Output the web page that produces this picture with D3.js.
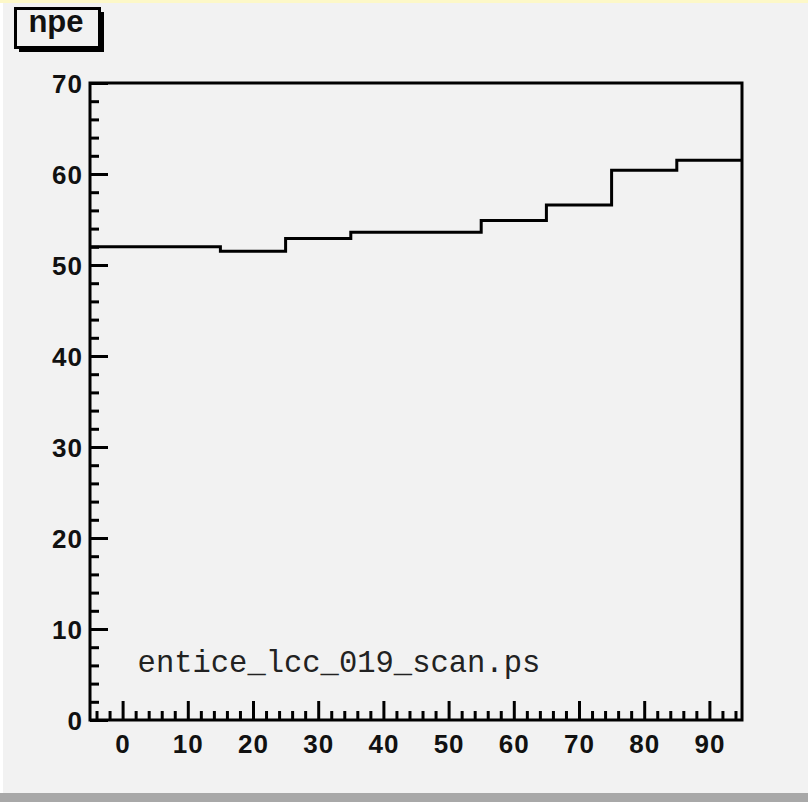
<!DOCTYPE html>
<html>
<head>
<meta charset="utf-8">
<script src="https://cdn.jsdelivr.net/npm/d3@7"></script>
<style>
  html, body { margin: 0; padding: 0; background: #f2f2f2; }
  svg { display: block; }
</style>
</head>
<body>
<div id="chart"></div>
<script>
'use strict';

// histogram: bin centres and contents (npe)
const binCenters = [0, 10, 20, 30, 40, 50, 60, 70, 80, 90];
const binValues = [52.0, 52.0, 51.5, 52.9, 53.6, 53.6, 54.9, 56.6, 60.4, 61.5];
const binWidth = 10;
const xTickLabels = [0, 10, 20, 30, 40, 50, 60, 70, 80, 90];
const yTickLabels = [0, 10, 20, 30, 40, 50, 60, 70];
const titleText = "npe";
const noteText = "entice_lcc_019_scan.ps";

const W = 808, H = 802;
const margin = {top: 83, right: 66, bottom: 82, left: 90};
const width = W - margin.left - margin.right;
const height = H - margin.top - margin.bottom;

const svg = d3.select("#chart").append("svg")
    .attr("width", W)
    .attr("height", H);

// window chrome
svg.append("rect").attr("x", 0).attr("y", 0).attr("width", W).attr("height", H).attr("fill", "#f2f2f2");
svg.append("rect").attr("x", 0).attr("y", 0).attr("width", W).attr("height", 3).attr("fill", "#fdf8c8");
svg.append("rect").attr("x", 0).attr("y", 3).attr("width", 3).attr("height", H).attr("fill", "#ffffff");
svg.append("rect").attr("x", 0).attr("y", 793).attr("width", W).attr("height", 9).attr("fill", "#a8a8a8");

const g = svg.append("g")
    .attr("transform", "translate(" + margin.left + "," + margin.top + ")");

const x = d3.scaleLinear()
    .domain([binCenters[0] - binWidth / 2, binCenters[binCenters.length - 1] + binWidth / 2])
    .range([0, width]);

const y = d3.scaleLinear()
    .domain([0, 70])
    .range([height, 0]);

// minor ticks every 2 units
const xMinor = d3.range(-4, 95, 2).filter(function(d) { return d % 10 !== 0; });
const yMinor = d3.range(2, 70, 2).filter(function(d) { return d % 10 !== 0; });

const font = "'Liberation Sans', Arial, sans-serif";

// x axis, ticks inside the frame
g.append("g")
    .attr("class", "axis axis--x-minor")
    .attr("transform", "translate(0," + height + ")")
    .call(d3.axisBottom(x).tickValues(xMinor).tickSize(-9).tickFormat(""));

g.append("g")
    .attr("class", "axis axis--x")
    .attr("transform", "translate(0," + height + ")")
    .call(d3.axisBottom(x).tickValues(xTickLabels).tickSize(-19));

// y axis
g.append("g")
    .attr("class", "axis axis--y-minor")
    .call(d3.axisLeft(y).tickValues(yMinor).tickSize(-9).tickFormat(""));

g.append("g")
    .attr("class", "axis axis--y")
    .call(d3.axisLeft(y).tickValues(yTickLabels).tickSize(-18));

g.selectAll(".axis path.domain").remove();
g.selectAll(".axis line")
    .attr("stroke", "#000")
    .attr("stroke-width", 3);

g.selectAll(".axis--x text")
    .attr("y", 15)
    .attr("dy", "0.71em")
    .attr("fill", "#111")
    .style("font-family", font)
    .style("font-weight", "bold")
    .style("font-size", "26px")
    .style("letter-spacing", "1px");

g.selectAll(".axis--y text")
    .attr("x", -7)
    .attr("dy", "0.36em")
    .attr("fill", "#111")
    .style("font-family", font)
    .style("font-weight", "bold")
    .style("font-size", "26px")
    .style("letter-spacing", "1px");

// histogram step line
const stepData = [];
binCenters.forEach(function(c, i) {
    stepData.push({x: c - binWidth / 2, v: binValues[i]});
    stepData.push({x: c + binWidth / 2, v: binValues[i]});
});

const line = d3.line()
    .x(function(d) { return x(d.x); })
    .y(function(d) { return y(d.v); });

g.append("path")
    .datum(stepData)
    .attr("class", "line")
    .attr("d", line)
    .attr("fill", "none")
    .attr("stroke", "#000")
    .attr("stroke-width", 3);

// frame
g.append("rect")
    .attr("x", 0)
    .attr("y", 0)
    .attr("width", width)
    .attr("height", height)
    .attr("fill", "none")
    .attr("stroke", "#000")
    .attr("stroke-width", 3);

// note text
g.append("text")
    .attr("x", x(2.3))
    .attr("y", y(5.3))
    .attr("fill", "#222")
    .style("font-family", "'Liberation Mono', 'Courier New', monospace")
    .style("font-size", "30.5px")
    .text(noteText);

// title box with shadow
svg.append("rect")
    .attr("x", 19).attr("y", 12)
    .attr("width", 85).attr("height", 40)
    .attr("fill", "#000");
svg.append("rect")
    .attr("x", 15.5).attr("y", 8.5)
    .attr("width", 84).attr("height", 39)
    .attr("fill", "#f2f2f2")
    .attr("stroke", "#000")
    .attr("stroke-width", 3);
svg.append("text")
    .attr("x", 56)
    .attr("y", 32)
    .attr("text-anchor", "middle")
    .attr("fill", "#111")
    .style("font-family", font)
    .style("font-weight", "bold")
    .style("font-size", "31px")
    .text(titleText);
</script>
</body>
</html>
